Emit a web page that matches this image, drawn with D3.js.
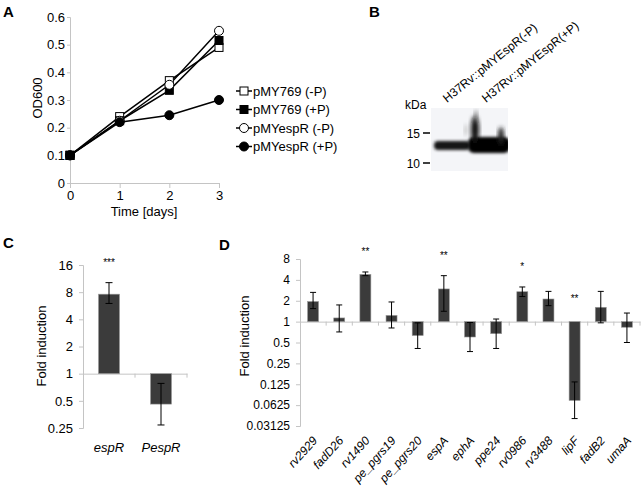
<!DOCTYPE html>
<html><head><meta charset="utf-8">
<script src="https://cdn.jsdelivr.net/npm/d3@7"></script>
<style>
body{margin:0;background:#fff;}
svg{display:block;font-family:"Liberation Sans",Arial,sans-serif;}
</style></head><body>
<svg id="c" width="644" height="487"></svg>
<script>
// ---------- Panel A data ----------
const days = [0, 1, 2, 3];
const seriesNames = ["pMY769 (-P)", "pMY769 (+P)", "pMYespR (-P)", "pMYespR (+P)"];
const pMY769_minusP = [0.1, 0.24, 0.37, 0.49];
const pMY769_plusP = [0.1, 0.225, 0.335, 0.515];
const pMYespR_minusP = [0.1, 0.225, 0.355, 0.55];
const pMYespR_plusP = [0.1, 0.22, 0.245, 0.30];
const odTicks = [0, 0.1, 0.2, 0.3, 0.4, 0.5, 0.6];

// ---------- Panel B ----------
const laneLabels = ["H37Rv::pMYEspR(-P)", "H37Rv::pMYEspR(+P)"];
const kdaMarkers = [15, 10];

// ---------- Panel C data ----------
const cGenes = ["espR", "PespR"];
const cFold = [7.6, 0.46];
const cErrHi = [10.2, 0.78];
const cErrLo = [6.0, 0.27];
const cSig = ["***", ""];
const cTicks = [0.25, 0.5, 1, 2, 4, 8, 16];

// ---------- Panel D data ----------
const dGenes = ["rv2929","fadD26","rv1490","pe_pgrs19","pe_pgrs20","espA","ephA","ppe24","rv0986","rv3488","lipF","fadB2","umaA"];
const dFold = [1.95, 1.13, 4.8, 1.23, 0.63, 2.96, 0.60, 0.67, 2.7, 2.12, 0.073, 1.61, 0.83];
const dErrHi = [2.64, 1.74, 5.2, 1.92, 0.96, 4.6, 0.97, 1.09, 3.16, 2.73, 0.135, 2.73, 1.33];
const dErrLo = [1.54, 0.71, 4.6, 0.81, 0.41, 1.41, 0.37, 0.41, 2.3, 1.7, 0.040, 0.96, 0.50];
const dSig = ["", "", "**", "", "", "**", "", "", "*", "", "**", "", ""];
const dTicks = [0.03125, 0.0625, 0.125, 0.25, 0.5, 1, 2, 4, 8];

const svg = d3.select("#c");
const AX = "#c4c4c4";
const BAR = "#3b3b3b";
const FS = 13;

function panelLabel(t, x, y) {
  svg.append("text").attr("x", x).attr("y", y).attr("font-size", 15).attr("font-weight", "bold").text(t);
}
function styleAxis(g) {
  g.select(".domain").attr("stroke", AX);
  g.selectAll(".tick line").attr("stroke", AX);
  g.selectAll(".tick text").attr("fill", "#000").attr("font-family", "Liberation Sans, Arial, sans-serif");
}

// ================= Panel A =================
panelLabel("A", 3, 17);
const ax = d3.scaleLinear().domain([0, 3]).range([70, 219]);
const ay = d3.scaleLinear().domain([0, 0.6]).range([183, 17]);
const gAy = svg.append("g").attr("transform", "translate(70,0)")
  .call(d3.axisLeft(ay).tickValues(odTicks).tickSize(3).tickPadding(2).tickFormat(d => d === 0 ? "0" : d3.format(".1f")(d)));
gAy.attr("font-size", FS); styleAxis(gAy);
const gAx = svg.append("g").attr("transform", "translate(0,183)")
  .call(d3.axisBottom(ax).tickValues(days).tickSize(5).tickPadding(3).tickFormat(d3.format("d")));
gAx.attr("font-size", FS); styleAxis(gAx);
svg.append("text").attr("x", 144).attr("y", 216).attr("text-anchor", "middle").attr("font-size", FS).text("Time [days]");
svg.append("text").attr("transform", "translate(42,98) rotate(-90)").attr("text-anchor", "middle").attr("font-size", FS).text("OD600");

const aSeries = [
  {vals: pMY769_minusP, shape: "square", fill: "#fff"},
  {vals: pMY769_plusP, shape: "square", fill: "#000"},
  {vals: pMYespR_minusP, shape: "circle", fill: "#fff"},
  {vals: pMYespR_plusP, shape: "circle", fill: "#000"}
];
const line = d3.line().x((d, i) => ax(days[i])).y(d => ay(d));
aSeries.forEach(s => {
  svg.append("path").attr("d", line(s.vals)).attr("fill", "none").attr("stroke", "#000").attr("stroke-width", 1.5);
});
function marker(g, shape, fill, x, y) {
  if (shape === "square") {
    g.append("rect").attr("x", x - 4).attr("y", y - 4).attr("width", 8).attr("height", 8)
      .attr("fill", fill).attr("stroke", "#000").attr("stroke-width", 1);
  } else {
    g.append("circle").attr("cx", x).attr("cy", y).attr("r", 4.5)
      .attr("fill", fill).attr("stroke", "#000").attr("stroke-width", 1);
  }
}
aSeries.forEach(s => {
  s.vals.forEach((v, i) => { if (i > 0) marker(svg, s.shape, s.fill, ax(days[i]), ay(v)); });
});
aSeries.forEach(s => marker(svg, s.shape, s.fill, ax(days[0]), ay(s.vals[0])));
marker(svg, "square", "#000", ax(days[0]), ay(pMY769_plusP[0]));

// legend
const legY = [91, 109.5, 128, 146.5];
seriesNames.forEach((n, i) => {
  const s = aSeries[i];
  svg.append("line").attr("x1", 236).attr("x2", 252).attr("y1", legY[i]).attr("y2", legY[i]).attr("stroke", "#000").attr("stroke-width", 1.5);
  marker(svg, s.shape, s.fill, 244, legY[i]);
  svg.append("text").attr("x", 253).attr("y", legY[i] + 4.5).attr("font-size", FS).text(n);
});

// ================= Panel B =================
panelLabel("B", 369, 17);
const defs = svg.append("defs");
defs.append("filter").attr("id", "blur1").attr("x", "-30%").attr("y", "-60%").attr("width", "160%").attr("height", "220%")
  .append("feGaussianBlur").attr("stdDeviation", 1.6);
defs.append("filter").attr("id", "blur2").attr("x", "-30%").attr("y", "-60%").attr("width", "160%").attr("height", "220%")
  .append("feGaussianBlur").attr("stdDeviation", 2.2);
defs.append("clipPath").attr("id", "blotClip").append("rect").attr("x", 431).attr("y", 108).attr("width", 77).attr("height", 63);
const kY = d3.scaleLinear().domain([10, 15]).range([163, 133]);
svg.append("rect").attr("x", 431).attr("y", 108).attr("width", 77).attr("height", 63).attr("fill", "#f4f5f8");
const blot = svg.append("g").attr("clip-path", "url(#blotClip)");
blot.append("rect").attr("x", 434).attr("y", 141).attr("width", 36).attr("height", 9).attr("rx", 4)
  .attr("fill", "#151515").attr("filter", "url(#blur1)");
blot.append("rect").attr("x", 468).attr("y", 137).attr("width", 42).attr("height", 16).attr("rx", 6)
  .attr("fill", "#000").attr("filter", "url(#blur1)");
blot.append("ellipse").attr("cx", 475).attr("cy", 130).attr("rx", 4).attr("ry", 14)
  .attr("fill", "#111").attr("filter", "url(#blur2)");
blot.append("ellipse").attr("cx", 501).attr("cy", 136).attr("rx", 3).attr("ry", 9)
  .attr("fill", "#222").attr("filter", "url(#blur2)");
blot.append("ellipse").attr("cx", 476).attr("cy", 116).attr("rx", 1.5).attr("ry", 6)
  .attr("fill", "#777").attr("filter", "url(#blur2)");
blot.append("ellipse").attr("cx", 466).attr("cy", 130).attr("rx", 1.5).attr("ry", 6)
  .attr("fill", "#bbb").attr("filter", "url(#blur2)");
svg.append("text").attr("x", 405).attr("y", 109).attr("font-size", 12).text("kDa");
kdaMarkers.forEach(k => {
  svg.append("line").attr("x1", 423).attr("x2", 430).attr("y1", kY(k)).attr("y2", kY(k)).attr("stroke", "#000").attr("stroke-width", 1.5);
  svg.append("text").attr("x", 420).attr("y", kY(k) + 4.5).attr("text-anchor", "end").attr("font-size", 12).text(k);
});
const laneX = [447, 486];
laneLabels.forEach((t, i) => {
  svg.append("text").attr("transform", `translate(${laneX[i]},${103}) rotate(-39)`).attr("font-size", 12).text(t);
});

// ================= Panel C =================
panelLabel("C", 3, 248);
const cx = d3.scaleBand().domain(cGenes).range([83, 187]);
const cy = d3.scaleLog().base(2).domain([0.25, 16]).range([428, 265]);
const gCy = svg.append("g").attr("transform", "translate(83,0)")
  .call(d3.axisLeft(cy).tickValues(cTicks).tickSize(4).tickPadding(6).tickFormat(d => String(d)));
gCy.attr("font-size", FS); styleAxis(gCy);
const gCx = svg.append("g").attr("transform", `translate(0,${cy(1)})`)
  .call(d3.axisBottom(cx).tickSize(0).tickFormat(""));
styleAxis(gCx);
[135, 187].forEach(x => svg.append("line").attr("x1", x).attr("x2", x).attr("y1", cy(1)).attr("y2", cy(1) + 4).attr("stroke", AX));
const cbw = 21;
cGenes.forEach((g, i) => {
  const xm = cx(g) + cx.bandwidth() / 2;
  const y0 = cy(1), y1 = cy(cFold[i]);
  svg.append("rect").attr("x", xm - cbw / 2).attr("y", Math.min(y0, y1)).attr("width", cbw).attr("height", Math.abs(y1 - y0))
    .attr("fill", BAR).attr("stroke", "#9a9a9a").attr("stroke-width", 0.6);
  svg.append("line").attr("x1", xm).attr("x2", xm).attr("y1", cy(cErrHi[i])).attr("y2", cy(cErrLo[i])).attr("stroke", "#000").attr("stroke-width", 1);
  [cErrHi[i], cErrLo[i]].forEach(v => svg.append("line").attr("x1", xm - 3.5).attr("x2", xm + 3.5).attr("y1", cy(v)).attr("y2", cy(v)).attr("stroke", "#000"));
  if (cSig[i]) svg.append("text").attr("x", xm).attr("y", 266).attr("text-anchor", "middle").attr("font-size", 10).text(cSig[i]);
  svg.append("text").attr("x", xm).attr("y", 452).attr("text-anchor", "middle").attr("font-size", FS).attr("font-style", "italic").text(g);
});
svg.append("text").attr("transform", "translate(46,346) rotate(-90)").attr("text-anchor", "middle").attr("font-size", FS).text("Fold induction");

// ================= Panel D =================
panelLabel("D", 219, 250);
const dx = d3.scaleBand().domain(dGenes).range([300, 640]);
const dy = d3.scaleLog().base(2).domain([0.03125, 8]).range([426, 259]);
const gDy = svg.append("g").attr("transform", "translate(300,0)")
  .call(d3.axisLeft(dy).tickValues(dTicks).tickSize(4).tickPadding(6).tickFormat(d => String(d)));
gDy.attr("font-size", 12); styleAxis(gDy);
const gDx = svg.append("g").attr("transform", `translate(0,${dy(1)})`)
  .call(d3.axisBottom(dx).tickSize(0).tickFormat(""));
styleAxis(gDx);
dGenes.forEach((g, i) => {
  const xb = dx(g) + dx.bandwidth();
  svg.append("line").attr("x1", xb).attr("x2", xb).attr("y1", dy(1)).attr("y2", dy(1) + 4).attr("stroke", AX);
});
const dbw = 11;
dGenes.forEach((g, i) => {
  const xm = dx(g) + dx.bandwidth() / 2;
  const y0 = dy(1), y1 = dy(dFold[i]);
  svg.append("rect").attr("x", xm - dbw / 2).attr("y", Math.min(y0, y1)).attr("width", dbw).attr("height", Math.abs(y1 - y0))
    .attr("fill", BAR).attr("stroke", "#9a9a9a").attr("stroke-width", 0.6);
  svg.append("line").attr("x1", xm).attr("x2", xm).attr("y1", dy(dErrHi[i])).attr("y2", dy(dErrLo[i])).attr("stroke", "#000").attr("stroke-width", 1);
  [dErrHi[i], dErrLo[i]].forEach(v => svg.append("line").attr("x1", xm - 3).attr("x2", xm + 3).attr("y1", dy(v)).attr("y2", dy(v)).attr("stroke", "#000"));
  if (dSig[i]) {
    const sy = g === "lipF" ? 302 : dy(dErrHi[i]) - 17;
    svg.append("text").attr("x", xm).attr("y", sy).attr("text-anchor", "middle").attr("font-size", 10).text(dSig[i]);
  }
  svg.append("text").attr("transform", `translate(${xm + 5},${441}) rotate(-48)`).attr("text-anchor", "end")
    .attr("font-size", 12).attr("font-style", "italic").text(g);
});
svg.append("text").attr("transform", "translate(249,336) rotate(-90)").attr("text-anchor", "middle").attr("font-size", FS).text("Fold induction");
</script>
</body></html>
